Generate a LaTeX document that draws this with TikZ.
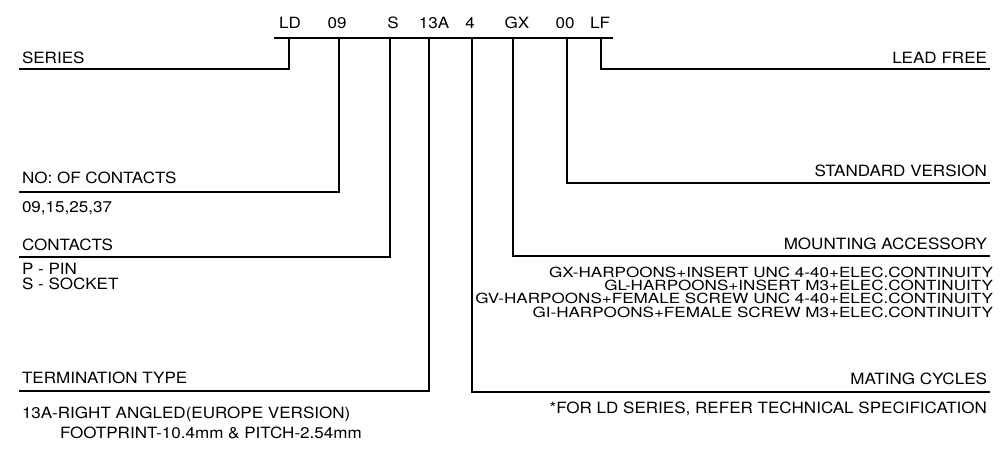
\documentclass[tikz,border=0pt]{standalone}
\usepackage{fontspec}
\setmainfont[FakeStretch=1.1]{TeX Gyre Heros}
\newfontfamily\gxfont[FakeStretch=1.22]{TeX Gyre Heros}
\begin{document}
\begin{tikzpicture}[x=1pt,y=-1pt,
  lbl/.style={font=\fontsize{15.5}{15.5}\selectfont, inner sep=0pt, outer sep=0pt},
  lw/.style={anchor=base west, lbl},
  le/.style={anchor=base east, lbl},
  opt/.style={anchor=base east, inner sep=0pt, outer sep=0pt, font=\gxfont\fontsize{14}{14}\selectfont},
  code/.style={anchor=base, lbl},
  conn/.style={line width=1.5pt, line cap=rect}]
\useasboundingbox (0,0) rectangle (1001,450);
% code letters
\node[code] (cLD) at (290,28) {LD};
\node[code] (c09) at (337,28) {09};
\node[code] (cS)  at (393,28) {S};
\node[code] (c13) at (434,28) {13A};
\node[code] (c4)  at (470,28) {4};
\node[code] (cGX) at (517,28) {GX};
\node[code] (c00) at (565,28) {00};
\node[code] (cLF) at (600,28) {LF};
% top bar
\coordinate (barL) at (275,38);
\coordinate (barR) at (612,38);
\draw[conn] (barL) -- (barR);
\coordinate (tLD) at (289,38);
\coordinate (t09) at (339,38);
\coordinate (tS)  at (390,38);
\coordinate (t13) at (429,38);
\coordinate (t4)  at (472,38);
\coordinate (tGX) at (513,38);
\coordinate (t00) at (567,38);
\coordinate (tLF) at (601,38);
% left side labels
\node[lw] (series) at (22,63) {SERIES};
\coordinate (eSeries) at (20,69);
\node[lw] (noc) at (22,183) {NO: OF CONTACTS};
\coordinate (eNoc) at (20,192);
\node[lw] (nocv) at (22,212) {09,15,25,37};
\node[lw] (cont) at (22,250) {CONTACTS};
\coordinate (eCont) at (20,257);
\node[lw] (pin) at (22,274) {P - PIN};
\node[lw] (sock) at (22,289) {S - SOCKET};
\node[lw] (term) at (22,383) {TERMINATION TYPE};
\coordinate (eTerm) at (20,391);
\node[lw] (t13a) at (22,418) {13A-RIGHT ANGLED(EUROPE VERSION)};
\node[lw] (tfp) at (60,438) {FOOTPRINT-10.4mm \& PITCH-2.54mm};
% right side labels
\node[le] (lead) at (987,63) {LEAD FREE};
\coordinate (eLead) at (989,69);
\node[le] (std) at (987,176) {STANDARD VERSION};
\coordinate (eStd) at (989,183);
\node[le] (mnt) at (987,249) {MOUNTING ACCESSORY};
\coordinate (eMnt) at (989,256);
\node[opt] (gx) at (993,277) {GX-HARPOONS+INSERT UNC 4-40+ELEC.CONTINUITY};
\node[opt] (gl) at (993,290.3) {GL-HARPOONS+INSERT M3+ELEC.CONTINUITY};
\node[opt] (gv) at (993,303.6) {GV-HARPOONS+FEMALE SCREW UNC 4-40+ELEC.CONTINUITY};
\node[opt] (gi) at (993,317) {GI-HARPOONS+FEMALE SCREW M3+ELEC.CONTINUITY};
\node[le] (mate) at (987,384) {MATING CYCLES};
\coordinate (eMate) at (989,392);
\node[le] (ld) at (987,413) {*FOR LD SERIES, REFER TECHNICAL SPECIFICATION};
% connectors
\draw[conn] (tLD) |- (eSeries);
\draw[conn] (t09) |- (eNoc);
\draw[conn] (tS)  |- (eCont);
\draw[conn] (t13) |- (eTerm);
\draw[conn] (t4)  |- (eMate);
\draw[conn] (tGX) |- (eMnt);
\draw[conn] (t00) |- (eStd);
\draw[conn] (tLF) |- (eLead);
\end{tikzpicture}
\end{document}
